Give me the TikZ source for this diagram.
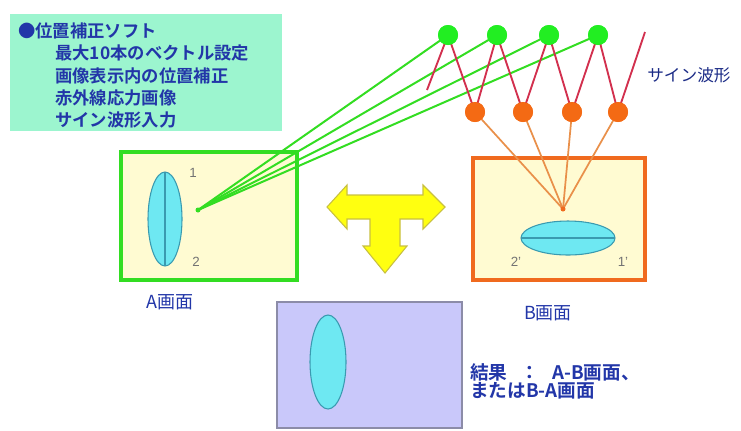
\documentclass[tikz,border=0pt]{standalone}
\usepackage{fontspec}
\newfontfamily\jp{Noto Sans CJK JP}
\newfontfamily\jpb{Noto Sans CJK JP Bold}
\setsansfont{Liberation Sans}
\definecolor{txtblue}{HTML}{2236A8}
\definecolor{boxmint}{HTML}{9CF5CF}
\definecolor{paleyel}{HTML}{FFFBD2}
\definecolor{gbord}{HTML}{33DD22}
\definecolor{obord}{HTML}{F06A1E}
\definecolor{lens}{HTML}{6EE8F2}
\definecolor{lensb}{HTML}{3A9AB0}
\definecolor{lav}{HTML}{C9C8FA}
\definecolor{lavb}{HTML}{8C8CA8}
\definecolor{gdot}{HTML}{22EE22}
\definecolor{odot}{HTML}{F46A14}
\definecolor{sine}{HTML}{D2304E}
\definecolor{oline}{HTML}{E9904A}
\definecolor{yel}{HTML}{FFFF10}
\definecolor{yelb}{HTML}{C8C040}
\begin{document}
\begin{tikzpicture}[x=0.75pt,y=-0.75pt,
  jtext/.style={font=\jpb\fontsize{13}{15}\selectfont,text=txtblue,inner sep=0pt},
  ltext/.style={font=\jp\fontsize{13.5}{15}\selectfont,text=txtblue,inner sep=0pt},
  num/.style={font=\sffamily\fontsize{10}{12}\selectfont,text=black!55,inner sep=0pt},
  gball/.style={circle,fill=gdot,minimum size=20pt*0.75,inner sep=0pt},
  oball/.style={circle,fill=odot,minimum size=20pt*0.75,inner sep=0pt},
  gline/.style={draw=gbord,line width=1.5pt},
  oline/.style={draw=oline,line width=1.3pt},
  sline/.style={draw=sine,line width=1.4pt},
  lensstyle/.style={fill=lens,draw=lensb,line width=0.8pt}]
\useasboundingbox (0,0) rectangle (741,430);
% info box
\node[fill=boxmint,minimum width=272*0.75pt,minimum height=117*0.75pt,inner sep=0pt] (info) at (146,72) {};
\node[jtext,anchor=west] (t0) at (18,31) {●位置補正ソフト};
\node[jtext,anchor=west] (t1) at (55,53) {最大10本のベクトル設定};
\node[jtext,anchor=west] (t2) at (55,76) {画像表示内の位置補正};
\node[jtext,anchor=west] (t3) at (55,98) {赤外線応力画像};
\node[jtext,anchor=west] (t4) at (55,120) {サイン波形入力};
% A box
\node[fill=paleyel,draw=gbord,line width=3pt,minimum width=176*0.75pt,minimum height=128*0.75pt,inner sep=0pt] (boxA) at (209,216) {};
\draw[lensstyle] (165,219) ellipse (17 and 47);
\draw[draw=lensb,line width=0.8pt] (165,172) -- (165,266);
\node[num] (n1) at (193,173) {1};
\node[num] (n2) at (196,262) {2};
\coordinate (pA) at (198,210);
\node[ltext] (labA) at (170,302) {A画面};
% B box
\node[fill=paleyel,draw=obord,line width=3pt,minimum width=172*0.75pt,minimum height=122*0.75pt,inner sep=0pt] (boxB) at (559,219) {};
\draw[lensstyle] (568,238) ellipse (47 and 17);
\draw[draw=lensb,line width=0.8pt] (521,238) -- (615,238);
\node[num] (n2b) at (516,262) {2'};
\node[num] (n1b) at (623,262) {1'};
\coordinate (pB) at (563,209);
\node[ltext] (labB) at (548,313) {B画面};
% balls
\node[gball] (g1) at (448,35) {};
\node[gball] (g2) at (497,35) {};
\node[gball] (g3) at (549,35) {};
\node[gball] (g4) at (598,35) {};
\node[oball] (o1) at (475,112) {};
\node[oball] (o2) at (523,112) {};
\node[oball] (o3) at (572,112) {};
\node[oball] (o4) at (618,112) {};
\coordinate (s0) at (427,90);
\coordinate (s9) at (645,32);
% lines
\foreach \g in {g1,g2,g3,g4} \draw[gline] (pA) -- (\g.center);
\foreach \o in {o1,o2,o3,o4} \draw[oline] (pB) -- (\o.center);
\draw[sline] (s0) -- (g1.center) -- (o1.center) -- (g2.center) -- (o2.center) -- (g3.center) -- (o3.center) -- (g4.center) -- (o4.center) -- (s9);
\foreach \g in {g1,g2,g3,g4} \node[gball] at (\g) {};
\foreach \o in {o1,o2,o3,o4} \node[oball] at (\o) {};
\fill[gbord] (pA) circle (2.5);
\fill[obord] (pB) circle (2.5);
\node[ltext,font=\jp\fontsize{12.5}{14}\selectfont,text=txtblue!80!black,anchor=west] (sinelab) at (647,75) {サイン波形};
% T arrow
\draw[fill=yel,draw=yelb,line width=0.8pt]
  (327,207) -- (347,185) -- (347,195) -- (423,195) -- (423,185) -- (445,207)
  -- (423,229) -- (423,219) -- (400,219) -- (400,246) -- (407,246) -- (385,273)
  -- (363,246) -- (370,246) -- (370,219) -- (347,219) -- (347,229) -- cycle;
% result box
\node[fill=lav,draw=lavb,line width=1pt,minimum width=185*0.75pt,minimum height=126*0.75pt,inner sep=0pt] (boxR) at (369.5,365) {};
\draw[lensstyle] (328,362) ellipse (18 and 47);
\node[ltext,font=\jpb\fontsize{14}{16}\selectfont,anchor=west] (r1) at (470,372) {結果\hspace{0.7em}：\hspace{0.7em}A-B画面、};
\node[ltext,font=\jpb\fontsize{14}{16}\selectfont,anchor=west] (r2) at (470,391) {またはB-A画面};
\end{tikzpicture}
\end{document}
